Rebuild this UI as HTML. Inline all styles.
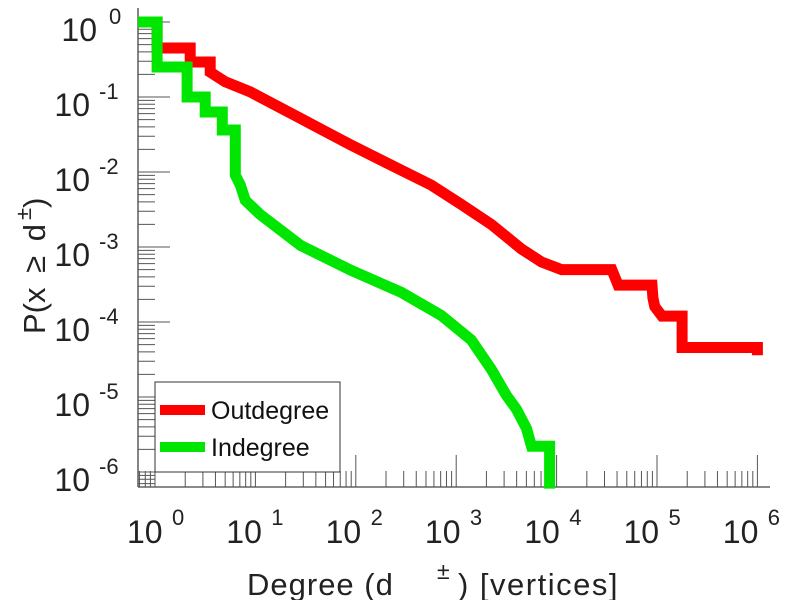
<!DOCTYPE html>
<html><head><meta charset="utf-8"><style>
html,body{margin:0;padding:0;background:#fff;}
svg{display:block;font-family:"Liberation Sans",sans-serif;}
</style></head><body>
<svg id="chart" width="789" height="600" viewBox="0 0 789 600" xmlns="http://www.w3.org/2000/svg">
<g id="axes"></g>
<g id="series"></g>
<g id="legend">
  <rect x="155" y="382" width="185" height="90" fill="#fff" stroke="#333" stroke-width="1"/>
  <line x1="160" y1="410" x2="205" y2="410" stroke="#ff0000" stroke-width="10"/>
  <text x="211" y="419" font-size="25" fill="#111">Outdegree</text>
  <line x1="160" y1="447" x2="205" y2="447" stroke="#00e600" stroke-width="10"/>
  <text x="211" y="456" font-size="25" fill="#111">Indegree</text>
</g>
<text x="247" y="595" font-size="31" letter-spacing="1" fill="#222">Degree (d<tspan x="437" y="579" font-size="23" letter-spacing="0">±</tspan><tspan x="458" y="595" letter-spacing="1.5">) [vertices]</tspan></text>
<text transform="translate(45,334) rotate(-90)" font-size="31" fill="#222">P(x <tspan dx="6">≥</tspan> <tspan dx="6">d</tspan><tspan dx="4" dy="-14" font-size="22">±</tspan><tspan dy="14">)</tspan></text>
</svg>
<script>
const outDegrees = [0.676,1.05,1.05,2.24,2.24,3.55,3.55,5,8.9,28,89,282,562,1122,2239,4467,7079,11220,35480,41000,56230,89130,91000,95000,112200,177800,177800,1000000,1000000];
const outCcdf = [1,1,0.45,0.45,0.293,0.293,0.215,0.16,0.117,0.052,0.023,0.0106,0.0067,0.0037,0.002,0.00094,0.00063,0.0005,0.0005,0.00031,0.00031,0.00031,0.00021,0.00016,0.00012,0.00012,0.0000457,0.0000457,0.000036];
const inDegrees = [0.676,1.05,1.05,2.09,2.09,3.16,3.16,4.68,4.68,6.3,6.3,7.08,7.94,11.2,28.2,89,282,708,1413,2239,3162,3981,5012,5623,8511,8511];
const inCcdf = [1,1,0.251,0.251,0.1,0.1,0.0631,0.0631,0.0363,0.0363,0.0091,0.0067,0.0042,0.0027,0.00105,0.00049,0.00025,0.000123,0.0000575,0.0000234,0.0000105,0.0000069,0.0000038,0.0000022,0.0000022,0.0000006];
const xTickExps = [0,1,2,3,4,5,6];
const yTickExps = [0,-1,-2,-3,-4,-5,-6];

const NS = "http://www.w3.org/2000/svg";
const X0 = 155, XD = 100.4, Y0 = 22, YD = 75;
const AXL = 138, AXB = 487, AXT = 8, AXR = 770;
function xs(v){ return X0 + XD*Math.log10(v); }
function ys(v){ return Y0 - YD*Math.log10(v); }
function mk(tag, attrs, parent){ const e=document.createElementNS(NS,tag); for(const k in attrs) e.setAttribute(k,attrs[k]); parent.appendChild(e); return e; }

const axes = document.getElementById('axes');
let l = mk('line',{x1:AXL,y1:AXB,x2:AXR,y2:AXB,stroke:'#444','stroke-width':1.3},axes);


l = mk('line',{x1:AXL,y1:AXT,x2:AXL,y2:AXB,stroke:'#444','stroke-width':1.3},axes);



for (let e=-1; e<=6; e++){
  for (let m=1; m<=9; m++){
    const v = m*Math.pow(10,e);
    const x = xs(v);
    if (x < AXL || x > AXR) continue;
    const len = m===1 ? 32 : 16;
    const t = mk('line',{x1:x,y1:AXB,x2:x,y2:AXB-len,stroke:'#555','stroke-width':1},axes);
    
    
  }
}
for (let e=-7; e<=0; e++){
  for (let m=1; m<=9; m++){
    const v = m*Math.pow(10,e);
    const y = ys(v);
    if (y > AXB || y < AXT) continue;
    const len = m===1 ? 32 : 17;
    const t = mk('line',{x1:AXL,y1:y,x2:AXL+len,y2:y,stroke:'#555','stroke-width':1},axes);
    
    
  }
}
xTickExps.forEach(e=>{
  const x = xs(Math.pow(10,e)) - 28 - 1.1*e;
  const t = mk('text',{x:x,y:543,'font-size':32,fill:'#222'},axes);
  t.textContent='10';
  
  
  const s = mk('text',{x:x+45,y:525,'font-size':22,fill:'#222'},axes);
  s.textContent=String(e);
  
  
});
yTickExps.forEach(e=>{
  const y = ys(Math.pow(10,e));
  const t = mk('text',{x:e===0?97:90,y:y+19,'font-size':32,'text-anchor':'end',fill:'#222'},axes);
  t.textContent='10';
  
  
  const s = mk('text',{x:e===0?109:99,y:y+2,'font-size':22,fill:'#222'},axes);
  s.textContent=String(e);
  
  
});

const series = document.getElementById('series');
function draw(xsArr, ysArr, color, name){
  const pts = xsArr.map((d,i)=>xs(d).toFixed(1)+','+ys(ysArr[i]).toFixed(1)).join(' ');
  const p = mk('polyline',{points:pts,fill:'none',stroke:color,'stroke-width':11,'stroke-linejoin':'miter','stroke-linecap':'butt'},series);
  
  
}
draw(outDegrees, outCcdf, '#ff0000', 'outdegree-line');
draw(inDegrees, inCcdf, '#00e600', 'indegree-line');
</script>
</body></html>
